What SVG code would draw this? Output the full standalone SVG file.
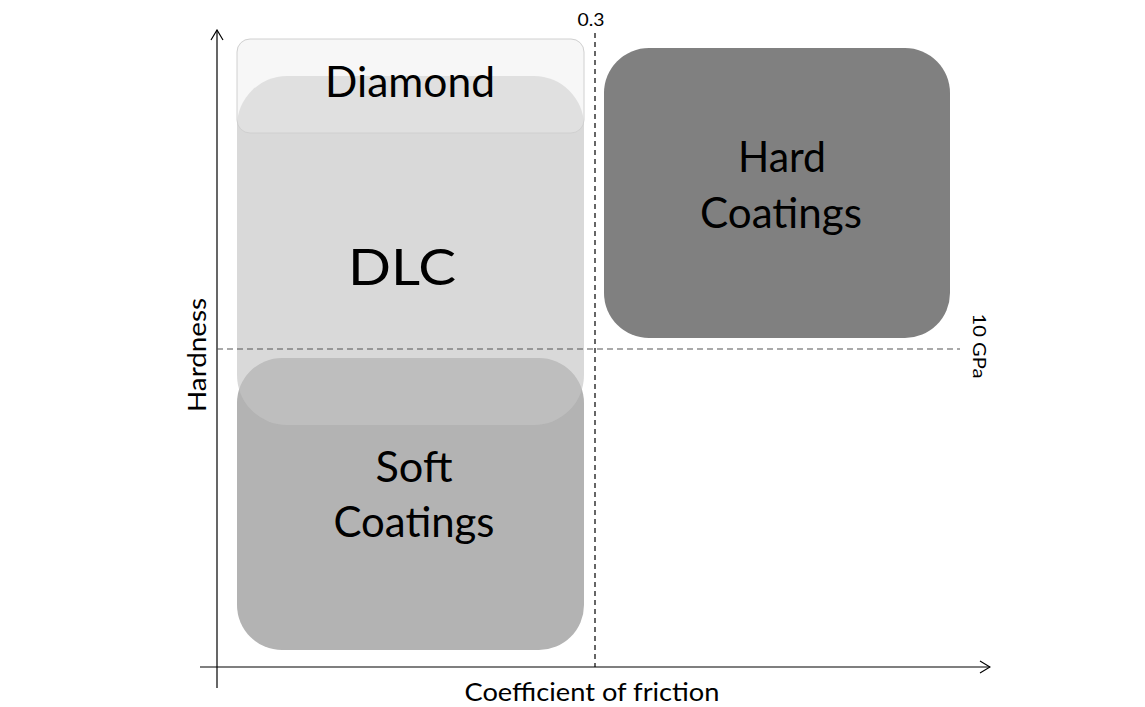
<svg xmlns="http://www.w3.org/2000/svg" width="1145" height="707" viewBox="0 0 1145 707">
<style>
.lbl{font-family:Lato,"Liberation Sans",sans-serif;fill:#000000;text-anchor:middle}
.ax{stroke:#000;stroke-width:1.2;fill:none}
</style>
<defs>
<marker id="arr" viewBox="0 0 12 14" refX="11" refY="7" markerWidth="12" markerHeight="14" markerUnits="userSpaceOnUse" orient="auto">
<path d="M1,1 L11,7 L1,13" fill="none" stroke="#000" stroke-width="1.2"/>
</marker>
</defs>
<rect width="1145" height="707" fill="#ffffff"/>
<g id="soft-coatings">
<rect x="237" y="358" width="347" height="292" rx="45" fill="#b3b3b3"/>
<text class="lbl" x="414" y="482" font-size="43" textLength="77" lengthAdjust="spacingAndGlyphs">Soft</text>
<text class="lbl" x="414" y="537" font-size="43" textLength="161" lengthAdjust="spacingAndGlyphs">Coatings</text>
</g>
<g id="dlc">
<rect x="237" y="76" width="347" height="349" rx="50" fill="#c4c4c4" fill-opacity="0.64"/>
<text class="lbl" x="402" y="285" font-size="50" textLength="108" lengthAdjust="spacingAndGlyphs">DLC</text>
</g>
<g id="diamond">
<rect x="237" y="39" width="347" height="94" rx="13" fill="#ebebeb" fill-opacity="0.4" stroke="#d0d0d0" stroke-width="1"/>
<text class="lbl" x="410" y="97" font-size="42" textLength="170" lengthAdjust="spacingAndGlyphs">Diamond</text>
</g>
<g id="hard-coatings">
<rect x="604" y="48" width="346" height="290" rx="45" fill="#808080"/>
<text class="lbl" x="782" y="172" font-size="43" textLength="88" lengthAdjust="spacingAndGlyphs">Hard</text>
<text class="lbl" x="781" y="228" font-size="43" textLength="162" lengthAdjust="spacingAndGlyphs">Coatings</text>
</g>
<g id="connectors">
<line x1="217" y1="688" x2="217" y2="30" class="ax" marker-end="url(#arr)"/>
<line x1="200" y1="667" x2="990" y2="667" class="ax" marker-end="url(#arr)"/>
<line x1="595" y1="33" x2="595" y2="667" stroke="#000" stroke-width="1.2" stroke-dasharray="5,4"/>
<line x1="217" y1="349" x2="960" y2="349" stroke="#555" stroke-width="1.2" stroke-dasharray="6,4"/>
</g>
<g id="axis-labels">
<text class="lbl" x="592" y="701" font-size="25" textLength="255" lengthAdjust="spacingAndGlyphs">Coefficient of friction</text>
<text class="lbl" font-size="25" textLength="114" lengthAdjust="spacingAndGlyphs" transform="translate(206,355) rotate(-90)">Hardness</text>
<text class="lbl" x="591" y="26" font-size="17" fill="#222" textLength="27" lengthAdjust="spacingAndGlyphs">0.3</text>
<text class="lbl" font-size="18" textLength="65" lengthAdjust="spacingAndGlyphs" transform="translate(973,346) rotate(90)">10 GPa</text>
</g>
</svg>
